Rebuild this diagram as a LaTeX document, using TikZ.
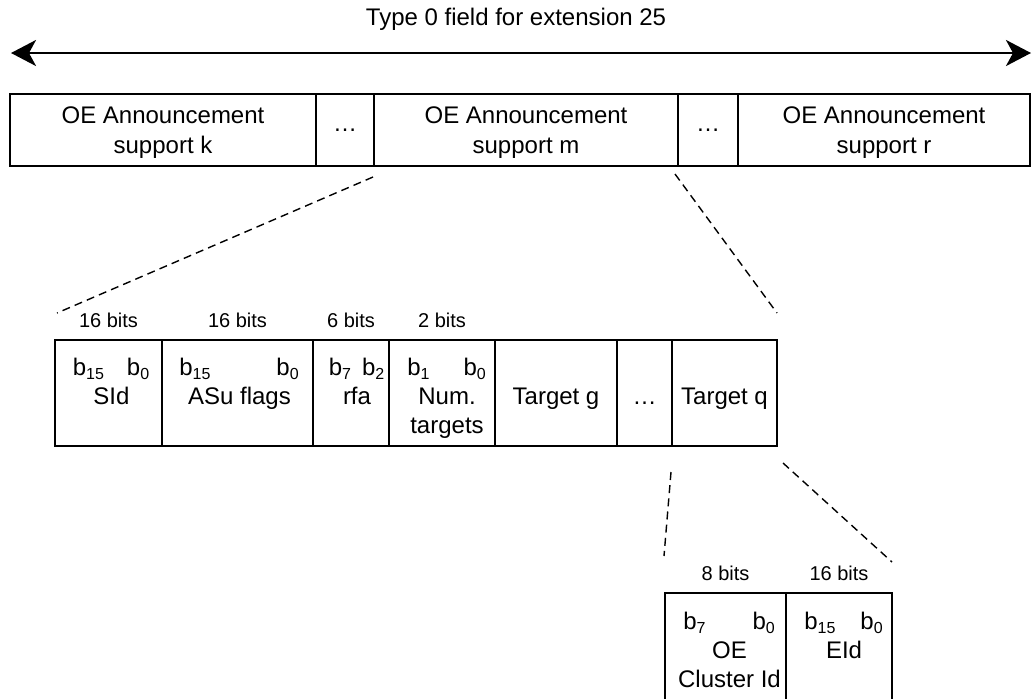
\documentclass[tikz,border=0pt]{standalone}
\usepackage{fontspec}
\setmainfont{Liberation Sans}
\usetikzlibrary{arrows.meta,positioning,calc}
\newcommand{\bb}[1]{b\textsubscript{#1}}

\begin{document}
\begin{tikzpicture}[x=0.5pt,y=-0.5pt,
    fld/.style={draw,line width=0.8pt,inner sep=0pt,outer sep=0pt,align=center,
      font=\fontsize{12}{14.5}\selectfont},
    toprow/.style={fld,minimum height=36pt,text depth=0pt,font=\fontsize{12}{15}\selectfont},
    midrow/.style={fld,minimum height=53pt},
    tgtrow/.style={midrow,text height=11pt,text depth=0pt},
    lowrow/.style={fld,minimum height=56pt},
    inbox/.style={inner sep=0pt,align=center,font=\fontsize{12}{14.5}\selectfont},
    bitsz/.style={inner sep=0pt,font=\fontsize{10}{12}\selectfont},
    zoomline/.style={line width=0.7pt,dash pattern=on 4pt off 2.6pt}]
  \useasboundingbox (0,0) rectangle (1032,698);
  % whole field and its extent
  \node[inner sep=0pt,anchor=base,font=\fontsize{12}{14}\selectfont] (ttl) at (516,25) {Type 0 field for extension 25};
  \coordinate (arrl) at (11,53);
  \coordinate (arrr) at (1031,53);
  \draw[{Stealth[length=12.5pt,width=13pt,inset=3.5pt]}-{Stealth[length=12.5pt,width=13pt,inset=3.5pt]},line width=1.2pt] (arrl) -- (arrr);
  % top row
  \node[toprow,minimum width=153pt] (supk) at (163,130) {OE Announcement\\support k};
  \node[toprow,minimum width=29pt,right=0pt of supk] (dotsa) {…};
  \node[toprow,minimum width=152pt,right=0pt of dotsa] (supm) {OE Announcement\\support m};
  \node[toprow,minimum width=30pt,right=0pt of supm] (dotsb) {…};
  \node[toprow,minimum width=146pt,right=0pt of dotsb] (supr) {OE Announcement\\support r};
  % support m expanded
  \node[midrow,minimum width=53.5pt] (sid) at (108.5,393) {};
  \node[midrow,minimum width=75.5pt,right=0pt of sid] (asu) {};
  \node[midrow,minimum width=38pt,right=0pt of asu] (rfa) {};
  \node[midrow,minimum width=53pt,right=0pt of rfa] (numt) {};
  \node[tgtrow,minimum width=61pt,right=0pt of numt] (tgtg) {Target g};
  \node[tgtrow,minimum width=27.5pt,right=0pt of tgtg] (dotsc) {…};
  \node[tgtrow,minimum width=52.5pt,right=0pt of dotsc] (tgtq) {Target q};
  \node[inbox,below=9pt of sid.north,xshift=1.5pt] (sidtxt) {\bb{15}\hspace{11pt}\bb{0}\\SId};
  \node[inbox,below=9pt of asu.north,xshift=1pt] (asutxt) {\bb{15}\hspace{32.5pt}\bb{0}\\ASu flags};
  \node[inbox,below=9pt of rfa.north,xshift=3pt] (rfatxt) {\bb{7}\hspace{5pt}\bb{2}\\rfa};
  \node[inbox,below=9pt of numt.north,xshift=2.5pt] (numtxt) {\bb{1}\hspace{16.5pt}\bb{0}\\Num.\\targets};
  \node[bitsz,above=6pt of sid.north] (sidbits) {16 bits};
  \node[bitsz,above=6pt of asu.north] (asubits) {16 bits};
  \node[bitsz,above=6pt of rfa.north] (rfabits) {6 bits};
  \node[bitsz,above=6pt of numt.north] (numbits) {2 bits};
  % target q expanded
  \node[lowrow,minimum width=60.5pt] (oecl) at (725.5,649) {};
  \node[lowrow,minimum width=53pt,right=0pt of oecl] (eid) {};
  \node[inbox,below=9.5pt of oecl.north,xshift=2pt] (oecltxt) {\bb{7}\hspace{23pt}\bb{0}\\OE\\Cluster Id};
  \node[inbox,below=9.5pt of eid.north,xshift=2.5pt] (eidtxt) {\bb{15}\hspace{12pt}\bb{0}\\EId};
  \node[bitsz,above=6pt of oecl.north] (oeclbits) {8 bits};
  \node[bitsz,above=6pt of eid.north] (eidbits) {16 bits};
  % zoom lines
  \draw[zoomline] ($(supm.south west)+(-1,11)$) -- ($(sid.north west)+(2,-27)$);
  \draw[zoomline] ($(supm.south east)+(-3,8)$) -- ($(tgtq.north east)+(0,-27)$);
  \draw[zoomline] ($(tgtq.south west)+(-1,26)$) -- ($(oecl.north west)+(-1,-37)$);
  \draw[zoomline] ($(tgtq.south east)+(6,17)$) -- ($(eid.north east)+(0,-31)$);
\end{tikzpicture}
\end{document}
